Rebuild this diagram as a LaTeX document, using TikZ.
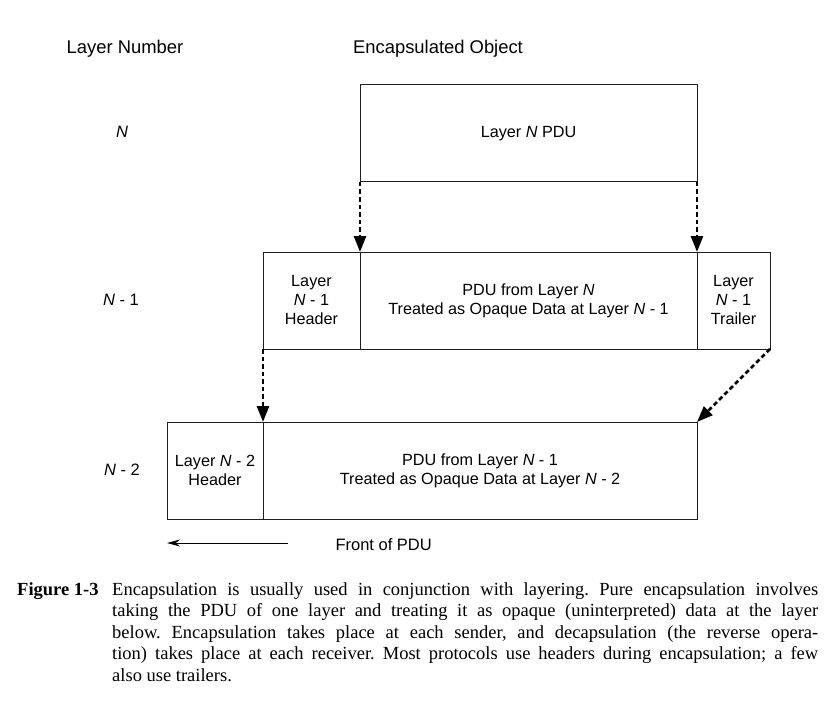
\documentclass[tikz,border=0pt]{standalone}
\usepackage{fontspec}
\setmainfont{Liberation Serif}
\setsansfont{Liberation Sans}
\usepackage{tikz}
\usetikzlibrary{arrows.meta,positioning,calc}
\definecolor{boxline}{RGB}{30,30,30}
\frenchspacing

\begin{document}
\begin{tikzpicture}[x=1pt,y=-1pt,
    pdubox/.style={draw=boxline, line width=1pt, inner sep=2pt, outer sep=0pt, align=center,
        minimum height=97pt, font=\sffamily\fontsize{16.2}{19}\selectfont},
    encarrow/.style={line width=2.6pt, dash pattern=on 4.5pt off 3pt, -{Triangle[length=16pt,width=12pt]}},
    headtext/.style={font=\sffamily\fontsize{18.4}{21}\selectfont},
    rowtext/.style={font=\sffamily\fontsize{16.5}{19}\selectfont}]
\useasboundingbox (0,0) rectangle (833,706);
% column headings
\node[headtext] (hdrLayer) at (125,49) {Layer Number};
\node[headtext] (hdrObject) at (438,49) {Encapsulated Object};
% layer numbers
\node[rowtext] (rowN) at (122,132) {\textit{N}};
\node[rowtext] (rowNa) at (121,300) {\textit{N} - 1};
\node[rowtext] (rowNb) at (122,470) {\textit{N} - 2};
% layer N
\node[pdubox, minimum width=337pt, anchor=north west] (pduN) at (360,85) {Layer \textit{N} PDU};
% layer N-1
\node[pdubox, minimum width=97pt, anchor=north west] (hdrA) at (263,252) {Layer\\\textit{N} - 1\\Header};
\node[pdubox, minimum width=337pt, right=0pt of hdrA] (bodyA) {PDU from Layer \textit{N}\\Treated as Opaque Data at Layer \textit{N} - 1};
\node[pdubox, minimum width=73pt, right=0pt of bodyA] (trlA) {Layer\\\textit{N} - 1\\Trailer};
% layer N-2
\node[pdubox, minimum width=96pt, anchor=north west] (hdrB) at (167,422) {Layer \textit{N} - 2\\Header};
\node[pdubox, minimum width=434pt, right=0pt of hdrB] (bodyB) {PDU from Layer \textit{N} - 1\\Treated as Opaque Data at Layer \textit{N} - 2};
% encapsulation arrows
\draw[encarrow] (pduN.south west) -- (hdrA.north east);
\draw[encarrow] (pduN.south east) -- (bodyA.north east);
\draw[encarrow] (hdrA.south west) -- (hdrB.north east);
\draw[encarrow] (trlA.south east) -- (bodyB.north east);
% front of PDU
\coordinate (frontR) at (288,543);
\draw[line width=1pt, -{Stealth[length=13pt,width=7pt]}] (frontR) -- (hdrB.south west |- frontR);
\node[rowtext, anchor=west] (frontLbl) at (332,545) {Front of PDU};
% caption
\node[anchor=north west, inner sep=0pt, font=\bfseries\fontsize{18.5}{21.5}\selectfont] (capLbl) at (17,582) {Figure 1-3};
\node[anchor=north west, inner sep=0pt, text width=706pt, align=justify, font=\fontsize{18.5}{21.5}\selectfont] (capText) at (112,582)
{Encapsulation is usually used in conjunction with layering. Pure encapsulation involves\linebreak
taking the PDU of one layer and treating it as opaque (uninterpreted) data at the layer\linebreak
below. Encapsulation takes place at each sender, and decapsulation (the reverse opera-\linebreak
tion) takes place at each receiver. Most protocols use headers during encapsulation; a few\linebreak
also use trailers.};
\end{tikzpicture}
\end{document}
